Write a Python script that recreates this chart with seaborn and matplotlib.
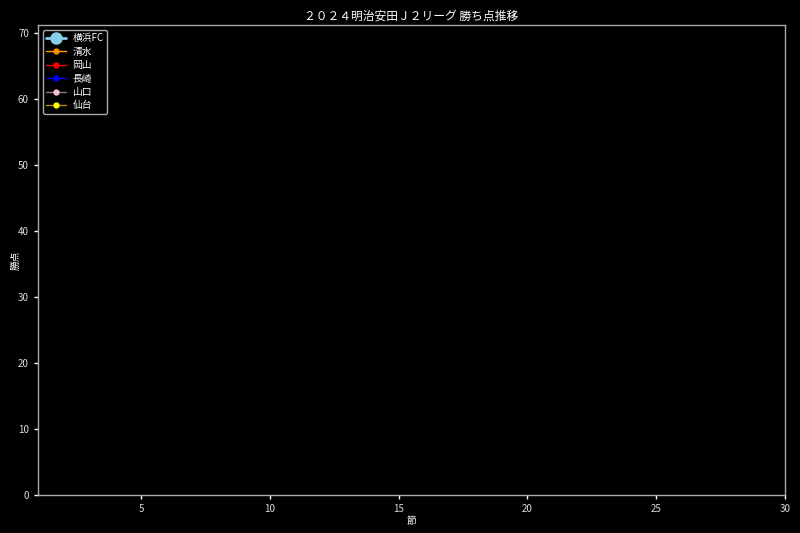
import numpy as np
import pandas as pd
import seaborn as sns
import matplotlib.pyplot as plt
from matplotlib.lines import Line2D

# チームと描画スタイル（参照画像には点が一つも描かれていない）
teams = ["横浜FC", "清水", "岡山", "長崎", "山口", "仙台"]
line_colors = ["skyblue", "orange", "red", "blue", "gray", "darkgoldenrod"]
marker_colors = ["skyblue", "darkorange", "red", "blue", "pink", "yellow"]

# 節と勝点（画像上に表示された値なし）
rounds = []
points = {t: [] for t in teams}

plt.style.use("dark_background")
sns.set_style("dark", {"axes.facecolor": "black", "figure.facecolor": "black"})
plt.rcParams["font.family"] = ["Noto Sans CJK JP", "DejaVu Sans"]

fig, ax = plt.subplots(figsize=(8, 5.33), dpi=100)
fig.subplots_adjust(left=0.0475, right=0.981, top=0.953, bottom=0.071)
ax.set_facecolor("black")

handles = []
for i, t in enumerate(teams):
    big = i == 0
    df = pd.DataFrame({"節": rounds, "勝点": points[t]}, dtype=float)
    if len(df):
        sns.lineplot(data=df, x="節", y="勝点", ax=ax, color=line_colors[i],
                     marker="o", markerfacecolor=marker_colors[i],
                     markeredgecolor=marker_colors[i],
                     linewidth=2 if big else 1, markersize=8 if big else 3.5)
    handles.append(Line2D([], [], color=line_colors[i], marker="o",
                          markerfacecolor=marker_colors[i],
                          markeredgecolor=marker_colors[i],
                          linewidth=2 if big else 1,
                          markersize=8 if big else 3.5, label=t))

ax.set_xlim(1, 30)
ax.set_ylim(0, 71.2)
ax.set_xticks([5, 10, 15, 20, 25, 30])
ax.set_yticks(np.arange(0, 71, 10))
ax.grid(False)
for s in ax.spines.values():
    s.set_color("#aaaaaa")
    s.set_linewidth(1)
ax.tick_params(colors="white", labelsize=7, length=3, width=1,
               labelcolor="#dddddd", bottom=True, left=True)

ax.set_title("２０２４明治安田Ｊ２リーグ 勝ち点推移", fontsize=8.5, color="white", pad=4)
ax.set_xlabel("節", fontsize=7, color="white", labelpad=1)
ax.set_ylabel("勝点", fontsize=7, color="white")
ax.yaxis.set_label_coords(-0.023, 0.5)

leg = ax.legend(handles=handles, loc="upper left", fontsize=7,
                facecolor="black", edgecolor="#aaaaaa", framealpha=1,
                handlelength=2.0, handletextpad=0.7, labelspacing=0.35,
                borderpad=0.35)
for txt in leg.get_texts():
    txt.set_color("white")

fig.savefig("out.png", dpi=100, facecolor="black")
